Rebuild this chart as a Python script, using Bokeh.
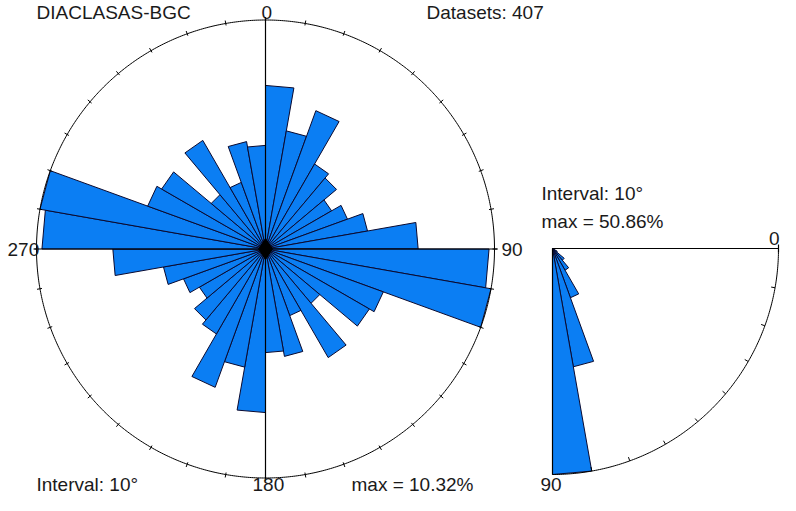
import numpy as np
from bokeh.plotting import figure
from bokeh.models import Range1d
from bokeh.embed import file_html
from bokeh.resources import INLINE
from bokeh.core.properties import value

# ---------------- data ----------------
title = "DIACLASAS-BGC"
n_total = 407
interval = 10
# strike rose: counts per 10-degree bin, 0-10 ... 170-180 (mirrored for 180-360)
strike_bins = list(range(0, 180, 10))
strike_counts = [30, 22, 27, 18, 17, 14, 16, 19, 28, 41, 42, 23, 22, 13, 23, 13, 20, 19]
# dip diagram: counts per 10-degree bin, 0-10 ... 80-90
dip_bins = list(range(0, 90, 10))
dip_counts = [0, 0, 0, 5, 14, 23, 48, 110, 207]
rose_labels = ["0", "90", "180", "270"]
dip_labels = ["0", "90"]

# ---------------- layout ----------------
W, H = 780, 495
OX, OY = 4, 9
p = figure(width=W, height=H, x_range=Range1d(OX, OX + W), y_range=Range1d(OY + H, OY),
           x_axis_type=None, y_axis_type=None, toolbar_location=None,
           output_backend="svg", min_border=0)
p.outline_line_color = None
p.background_fill_color = "white"
p.border_fill_color = "white"

FILL = "#0b7ef3"
EDGE = "#0a0a30"
FONT = value("Liberation Sans")
FS = value("19px")
TXT = "#1a1a1a"
YT, YB = 20.5, 492.5

# ---------- strike rose ----------
cx, cy, R = 269.0, 257.5, 229.0
pct = [c / n_total * 100 for c in strike_counts]
pmax = max(pct)
xs, ys = [], []
for half in (0, 180):
    for b, v in zip(strike_bins, pct):
        L = v / pmax * R
        a0, a1 = np.radians(b + half), np.radians(b + half + interval)
        xs.append([cx, cx + L * np.sin(a0), cx + L * np.sin(a1)])
        ys.append([cy, cy - L * np.cos(a0), cy - L * np.cos(a1)])
p.patches(xs, ys, fill_color=FILL, line_color=EDGE, line_width=1)

t = np.linspace(0, 2 * np.pi, 721)
p.line(cx + R * np.sin(t), cy - R * np.cos(t), line_color="black", line_width=1)
# cross lines
p.segment(x0=[cx, 38], y0=[26, cy], x1=[cx, 501], y1=[489, cy], line_color="black", line_width=1.2)
# ticks every 10 degrees
tk = np.radians(np.arange(0, 360, 10))
p.segment(x0=cx + (R - 2) * np.sin(tk), y0=cy - (R - 2) * np.cos(tk),
          x1=cx + (R + 3) * np.sin(tk), y1=cy - (R + 3) * np.cos(tk),
          line_color="black", line_width=1)
p.scatter([cx], [cy], size=21, marker="diamond", color="black")

p.text(x=[265, 505, 256, 11], y=[YT, 258, YB, 258], text=rose_labels,
       text_font=FONT, text_font_size=FS, text_color=TXT,
       text_baseline="middle", text_align="left")
p.text(x=[40, 430, 40, 355], y=[YT, YT, YB, YB],
       text=[title, f"Datasets: {n_total}", f"Interval: {interval}°", f"max = {pmax:.2f}%"],
       text_font=FONT, text_font_size=FS, text_color=TXT,
       text_baseline="middle", text_align="left")

# ---------- dip diagram ----------
dx0, dy0, RD = 556.0, 257.0, 226.0
dpct = [c / n_total * 100 for c in dip_counts]
dmax = max(dpct)
xs, ys = [], []
for b, v in zip(dip_bins, dpct):
    if v <= 0:
        continue
    L = v / dmax * RD
    a0, a1 = np.radians(b), np.radians(b + interval)
    xs.append([dx0, dx0 + L * np.cos(a0), dx0 + L * np.cos(a1)])
    ys.append([dy0, dy0 + L * np.sin(a0), dy0 + L * np.sin(a1)])
p.patches(xs, ys, fill_color=FILL, line_color=EDGE, line_width=1)

tq = np.linspace(0, np.pi / 2, 181)
p.line(dx0 + RD * np.cos(tq), dy0 + RD * np.sin(tq), line_color="black", line_width=1)
p.segment(x0=[dx0, dx0, dx0 + RD], y0=[dy0, dy0, dy0 - 4], x1=[dx0 + RD, dx0, dx0 + RD],
          y1=[dy0, dy0 + RD, dy0 + 4], line_color="black", line_width=1.2)
tq2 = np.radians(np.arange(10, 90, 10))
p.segment(x0=dx0 + RD * np.cos(tq2), y0=dy0 + RD * np.sin(tq2),
          x1=dx0 + (RD - 4) * np.cos(tq2), y1=dy0 + (RD - 4) * np.sin(tq2),
          line_color="black", line_width=1)

p.text(x=[OX + W - 1], y=[253], text=[dip_labels[0]],
       text_font=FONT, text_font_size=FS, text_color=TXT,
       text_baseline="bottom", text_align="right")
p.text(x=[544], y=[YB], text=[dip_labels[1]],
       text_font=FONT, text_font_size=FS, text_color=TXT,
       text_baseline="middle", text_align="left")
p.text(x=[545, 545], y=[202, 230],
       text=[f"Interval: {interval}°", f"max = {dmax:.2f}%"],
       text_font=FONT, text_font_size=FS, text_color=TXT,
       text_baseline="middle", text_align="left")

open("out.html", "w").write(file_html(p, INLINE))
